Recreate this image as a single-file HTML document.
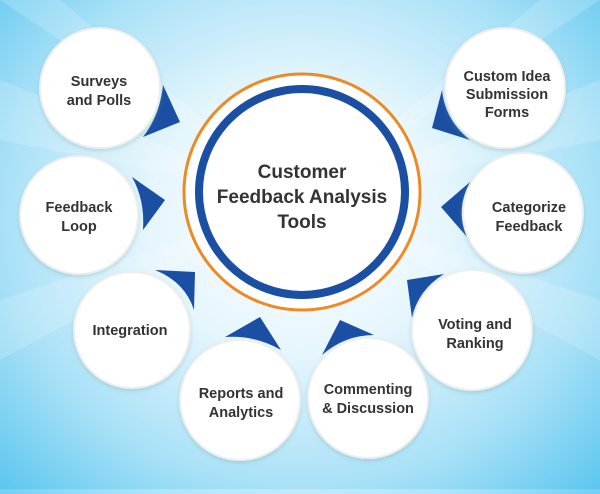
<!DOCTYPE html>
<html><head><style>
html,body{margin:0;padding:0;}
body{width:600px;height:489px;overflow:hidden;background:radial-gradient(ellipse at 50% 45%,#ffffff 0%,#e6f6fd 35%,#a9e1f7 70%,#5cc6ef 100%);font-family:"Liberation Sans",sans-serif;}
</style></head><body>
<svg width="600" height="489" viewBox="0 0 600 489" xmlns="http://www.w3.org/2000/svg">
<defs>
<filter id="sh" x="-20%" y="-20%" width="140%" height="140%"><feDropShadow dx="0" dy="2" stdDeviation="2" flood-color="#7aa" flood-opacity="0.35"/></filter>
</defs>
<g opacity="0.18" fill="#ffffff">
<polygon points="300,200 0,0 60,0"/><polygon points="300,200 0,80 0,140"/><polygon points="300,200 600,0 540,0"/><polygon points="300,200 600,80 600,140"/><polygon points="300,200 0,300 0,360"/><polygon points="300,200 600,300 600,360"/>
</g>
<!-- center -->
<circle cx="302" cy="192" r="118" fill="#fff" stroke="#ee8a24" stroke-width="3"/>
<circle cx="302" cy="192" r="103" fill="#fff" stroke="#1a4fa3" stroke-width="8"/>
<g font-weight="bold" font-size="19" fill="#333" text-anchor="middle">
<text x="302" y="178">Customer</text>
<text x="302" y="203">Feedback Analysis</text>
<text x="302" y="228">Tools</text>
</g>
<!-- triangles -->
<g fill="#1a4fa3">
<path d="M163,85 L180,122 L143,137 Q160,115 163,85Z"/>
<path d="M132,177 L165,200 L143,230 Q145,200 132,177Z"/>
<path d="M155,270 L195,272 L194,310 Q185,282 155,270Z"/>
<path d="M225,337 L260,317 L281,350 Q255,335 225,337Z"/>
<path d="M322,355 L340,320 L374,335 Q345,335 322,355Z"/>
<path d="M407,280 L444,274 Q418,290 412,318Z"/>
<path d="M470,182 L441,207 L467,237 Q455,210 470,182Z"/>
<path d="M442,90 L432,128 L470,140 Q445,120 442,90Z"/>
</g>
<!-- small circles -->
<g fill="#fff" stroke="#eeeeee" stroke-width="2" filter="url(#sh)">
<circle cx="100" cy="88" r="60"/>
<circle cx="79" cy="215" r="59"/>
<circle cx="132" cy="330" r="58"/>
<circle cx="240" cy="400" r="60"/>
<circle cx="368" cy="398" r="60"/>
<circle cx="472" cy="330" r="60"/>
<circle cx="523" cy="213" r="60"/>
<circle cx="505" cy="88" r="60"/>
</g>
<g font-size="14.5" fill="#333" text-anchor="middle" font-weight="bold">
<text x="99" y="86">Surveys</text><text x="99" y="105">and Polls</text>
<text x="79" y="212">Feedback</text><text x="79" y="231">Loop</text>
<text x="130" y="335">Integration</text>
<text x="241" y="398">Reports and</text><text x="241" y="417">Analytics</text>
<text x="368" y="394">Commenting</text><text x="368" y="413">&amp; Discussion</text>
<text x="475" y="329">Voting and</text><text x="475" y="348">Ranking</text>
<text x="529" y="212">Categorize</text><text x="529" y="231">Feedback</text>
<text x="507" y="81">Custom Idea</text><text x="507" y="99">Submission</text><text x="507" y="117">Forms</text>
</g>
</svg>
</body></html>
